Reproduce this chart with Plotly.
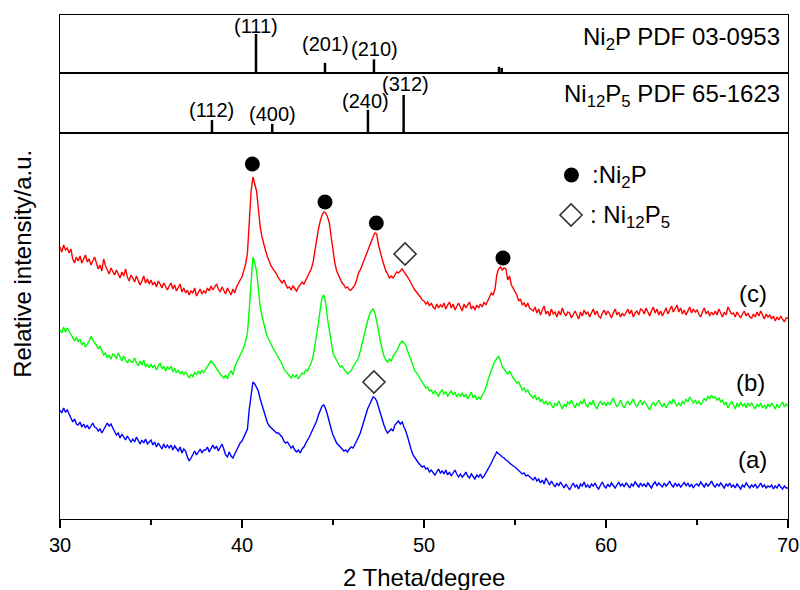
import plotly.graph_objects as go

# ---------------- data ----------------
two_theta = [round(30 + 0.1 * i, 1) for i in range(401)]

curve_c = [
    274, 269, 276, 271, 273, 268, 272, 262, 258, 264,
    260, 265, 258, 263, 266, 259, 262, 256, 261, 264,
    258, 252, 256, 250, 262, 255, 251, 247, 253, 249,
    246, 251, 247, 243, 249, 245, 252, 244, 240, 246,
    243, 239, 245, 241, 236, 240, 245, 238, 242, 237,
    241, 236, 239, 234, 240, 237, 233, 238, 235, 231,
    235, 238, 232, 236, 230, 234, 237, 229, 233, 228,
    231, 226, 230, 228, 233, 225, 229, 232, 227, 230,
    228, 233, 230, 235, 231, 234, 237, 232, 229, 234,
    230, 227, 233, 229, 226, 232, 228, 234, 238, 241,
    244, 250, 257, 268, 300, 330, 344, 338, 330, 312,
    294, 284, 276, 270, 264, 259, 255, 252, 250, 247,
    243, 240, 238, 241, 236, 233, 234, 231, 235, 232,
    230, 234, 236, 239, 237, 241, 244, 248, 252, 258,
    270, 282, 292, 300, 306, 309, 308, 304, 298, 284,
    268, 258, 250, 246, 242, 238, 236, 233, 234, 231,
    231, 234, 236, 241, 248, 251, 256, 260, 266, 270,
    274, 280, 284, 288, 287, 276, 268, 262, 256, 250,
    247, 243, 245, 243, 246, 249, 248, 250, 252, 249,
    247, 244, 241, 237, 234, 231, 229, 226, 224, 221,
    220, 217, 219, 215, 218, 214, 212, 217, 213, 216,
    214, 218, 212, 216, 219, 213, 217, 211, 215, 218,
    214, 210, 217, 213, 216, 219, 212, 215, 211, 216,
    213, 217, 214, 219, 216, 220, 224, 228, 226, 232,
    246, 252, 254, 251, 253, 252, 241, 245, 236, 233,
    230, 226, 220, 222, 216, 218, 214, 218, 213, 211,
    210, 214, 208, 212, 206, 211, 215, 207, 210, 205,
    212, 207, 209, 204, 210, 206, 213, 208, 205, 209,
    208, 203, 207, 210, 206, 202, 209, 205, 211, 207,
    209, 204, 208, 212, 206, 210, 205, 203, 208, 211,
    206, 210, 207, 203, 208, 212, 206, 209, 204, 208,
    205, 209, 212, 207, 211, 204, 208, 210, 206, 212,
    211, 207, 213, 209, 205, 210, 214, 208, 212, 206,
    210, 205, 209, 213, 207, 211, 215, 209, 212, 216,
    209, 213, 207, 211, 206, 210, 214, 208, 212, 209,
    211, 207, 204, 209, 213, 207, 210, 205, 209, 206,
    210, 206, 212, 208, 204, 209, 206, 214, 210, 207,
    208, 204, 209, 206, 203, 207, 210, 205, 208, 204,
    203, 207, 204, 209, 205, 210, 206, 202, 207, 204,
    206, 202, 205, 200, 204, 201, 205, 202, 199, 203,
    203,
]

curve_b = [
    191, 188, 194, 189, 193, 190, 186, 183, 180, 184,
    179, 182, 176, 179, 174, 177, 180, 185, 181, 178,
    176, 172, 175, 170, 166, 168, 163, 166, 162, 167,
    166, 162, 168, 164, 160, 165, 161, 158, 162, 159,
    159, 163, 158, 155, 160, 156, 161, 154, 157, 153,
    157, 153, 156, 151, 155, 158, 152, 155, 150, 154,
    152, 155, 149, 153, 148, 151, 147, 150, 146, 149,
    146, 143, 147, 144, 149, 146, 150, 147, 151, 148,
    152, 155, 157, 160, 158, 155, 152, 150, 147, 145,
    143, 146, 142, 148, 150, 146, 154, 158, 163, 166,
    170, 174, 180, 188, 212, 240, 264, 258, 250, 232,
    214, 205, 196, 190, 184, 180, 176, 173, 170, 167,
    163, 160, 157, 152, 150, 148, 146, 143, 146, 144,
    146, 142, 145, 148, 147, 151, 150, 154, 158, 164,
    174, 186, 198, 212, 224, 226, 218, 202, 190, 178,
    168, 164, 160, 157, 154, 155, 152, 150, 147, 149,
    150, 154, 157, 160, 163, 170, 178, 186, 192, 200,
    206, 210, 212, 208, 200, 188, 180, 172, 165, 161,
    159, 162, 160, 165, 167, 170, 174, 178, 180, 178,
    176, 170, 165, 158, 154, 150, 148, 145, 142, 140,
    137, 133, 134, 130, 131, 127, 130, 128, 125, 129,
    131, 127, 129, 125, 128, 130, 126, 129, 124, 127,
    125, 128, 124, 127, 122, 126, 129, 123, 126, 121,
    124, 122, 126, 129, 133, 140, 146, 152, 156, 160,
    162, 165, 160, 154, 152, 150, 147, 150, 146, 143,
    141, 138, 139, 135, 131, 133, 129, 131, 127, 125,
    123, 126, 121, 124, 119, 122, 117, 120, 116, 119,
    116, 113, 118, 115, 120, 116, 112, 117, 114, 119,
    117, 121, 116, 113, 118, 115, 120, 117, 122, 116,
    114, 119, 116, 121, 115, 112, 117, 120, 116, 119,
    115, 119, 116, 120, 123, 118, 114, 117, 121, 116,
    113, 117, 120, 116, 119, 122, 117, 114, 118, 121,
    116, 120, 117, 114, 111, 116, 119, 115, 118, 121,
    117, 114, 118, 113, 116, 120, 117, 122, 118, 115,
    118, 115, 120, 117, 122, 119, 124, 121, 118, 121,
    117, 120, 116, 119, 123, 120, 125, 122, 126, 123,
    124, 121, 123, 119, 121, 116, 119, 113, 117, 120,
    116, 112, 118, 114, 119, 115, 117, 113, 118, 115,
    118, 115, 112, 117, 114, 118, 113, 116, 112, 117,
    114, 118, 115, 112, 117, 113, 116, 119, 114, 117,
    115,
]

curve_a = [
    111, 108, 113, 109, 111, 106, 103, 99, 102, 97,
    96, 99, 94, 97, 93, 96, 92, 95, 98, 94,
    93, 90, 92, 88, 91, 94, 98, 95, 97, 93,
    90, 86, 88, 83, 87, 84, 81, 85, 82, 79,
    82, 79, 84, 80, 77, 81, 78, 82, 77, 79,
    81, 76, 79, 74, 78, 75, 72, 77, 73, 76,
    73, 76, 71, 75, 72, 70, 74, 68, 72, 70,
    64, 60, 63, 67, 70, 66, 69, 72, 68, 71,
    71, 74, 69, 73, 76, 72, 75, 70, 74, 77,
    72, 66, 64, 69, 65, 63, 67, 71, 74, 78,
    80, 84, 88, 92, 112, 128, 139, 137, 134, 130,
    122, 116, 110, 104, 98, 95, 93, 92, 90, 88,
    88, 86, 84, 80, 78, 79, 76, 73, 75, 71,
    69, 71, 68, 72, 74, 78, 81, 84, 88, 92,
    96, 100, 106, 110, 115, 116, 112, 106, 98, 92,
    86, 82, 78, 76, 74, 72, 70, 71, 69, 72,
    74, 73, 76, 80, 84, 88, 94, 100, 108, 112,
    116, 120, 124, 123, 120, 114, 108, 100, 96, 91,
    88, 90, 92, 90, 96, 98, 100, 97, 99, 94,
    90, 84, 76, 71, 66, 63, 60, 58, 56, 54,
    55, 52, 53, 49, 51, 48, 46, 49, 52, 48,
    50, 47, 51, 46, 49, 45, 48, 51, 47, 44,
    47, 44, 46, 49, 45, 43, 47, 44, 42, 46,
    44, 47, 43, 45, 48, 52, 55, 58, 62, 65,
    69, 67, 66, 64, 63, 61, 60, 58, 56, 55,
    54, 52, 50, 49, 47, 48, 45, 46, 44, 42,
    41, 44, 40, 42, 38, 41, 37, 43, 39, 36,
    40, 37, 34, 38, 35, 39, 36, 33, 37, 34,
    31, 35, 38, 34, 36, 32, 37, 35, 39, 34,
    36, 33, 37, 35, 38, 34, 32, 36, 39, 35,
    33, 37, 34, 38, 35, 33, 36, 39, 35, 37,
    34, 38, 36, 33, 37, 35, 39, 36, 34, 38,
    35, 37, 34, 38, 36, 33, 37, 39, 35, 38,
    36, 34, 38, 35, 37, 40, 36, 34, 38, 35,
    37, 34, 36, 39, 35, 38, 34, 37, 33, 36,
    37, 35, 39, 36, 34, 38, 35, 37, 40, 36,
    34, 37, 35, 38, 36, 33, 37, 35, 38, 34,
    36, 33, 37, 35, 32, 36, 34, 38, 35, 33,
    36, 34, 37, 33, 35, 38, 34, 36, 33, 35,
    34, 36, 32, 35, 33, 37, 34, 32, 35, 33,
    33,
]

# PDF reference sticks
ni2p_pos = [40.77, 44.56, 47.25, 54.12, 54.27]
ni2p_int = [100, 26, 35, 16, 13]
ni2p_hkl = ["(111)", "(201)", "(210)"]
ni2p_lab_x = [40.77, 44.6, 47.3]
ni2p_lab_y = [120.5, 74.4, 62.8]

ni12p5_pos = [38.35, 41.66, 46.92, 48.88]
ni12p5_int = [34, 24, 61, 100]
ni12p5_hkl = ["(112)", "(400)", "(240)", "(312)"]
ni12p5_lab_x = [38.35, 41.65, 46.76, 48.98]
ni12p5_lab_y = [60.5, 50.0, 84.2, 129.0]

# phase markers on the patterns
ni2p_mark_x = [40.57, 44.56, 47.38, 54.34]
ni2p_mark_y = [357, 319, 298, 263]
ni12p5_mark_x = [48.96, 47.25]
ni12p5_mark_y = [267, 139]

curve_labels = ["(c)", "(b)", "(a)"]
curve_label_x = [68.1, 67.95, 68.05]
curve_label_y = [227, 138, 61]

FONT = "Arial, Liberation Sans, sans-serif"


def sticks(pos, h):
    xs, ys = [], []
    for p, v in zip(pos, h):
        xs += [p, p, None]
        ys += [0, v, None]
    return xs, ys


fig = go.Figure()

for ys, col in [(curve_c, "#ff0000"), (curve_b, "#00ff00"), (curve_a, "#0000ff")]:
    fig.add_trace(go.Scatter(x=two_theta, y=ys, mode="lines",
                             line=dict(color=col, width=1.4),
                             xaxis="x", yaxis="y", showlegend=False))

fig.add_trace(go.Scatter(x=ni2p_mark_x, y=ni2p_mark_y, mode="markers",
                         marker=dict(symbol="circle", size=15, color="black"),
                         xaxis="x", yaxis="y", showlegend=False))
fig.add_trace(go.Scatter(x=ni12p5_mark_x, y=ni12p5_mark_y, mode="markers",
                         marker=dict(symbol="diamond-open", size=17, color="#333333",
                                     line=dict(width=1.6, color="#333333")),
                         xaxis="x", yaxis="y", showlegend=False))

# key symbols drawn inside the plot
fig.add_trace(go.Scatter(x=[58.1], y=[346], mode="markers",
                         marker=dict(symbol="circle", size=15, color="black"),
                         xaxis="x", yaxis="y", showlegend=False))
fig.add_trace(go.Scatter(x=[58.08], y=[306], mode="markers",
                         marker=dict(symbol="diamond-open", size=17, color="#333333",
                                     line=dict(width=1.6, color="#333333")),
                         xaxis="x", yaxis="y", showlegend=False))

# sticks
sx, sy = sticks(ni2p_pos, ni2p_int)
fig.add_trace(go.Scatter(x=sx, y=sy, mode="lines", line=dict(color="black", width=2.5),
                         xaxis="x3", yaxis="y3", showlegend=False))
sx, sy = sticks(ni12p5_pos, ni12p5_int)
fig.add_trace(go.Scatter(x=sx, y=sy, mode="lines", line=dict(color="black", width=2.5),
                         xaxis="x2", yaxis="y2", showlegend=False))

annotations = []
for t, x, y in zip(ni2p_hkl, ni2p_lab_x, ni2p_lab_y):
    annotations.append(dict(text=t, x=x, y=y, xref="x3", yref="y3", showarrow=False,
                            font=dict(size=20, family=FONT, color="black")))
for t, x, y in zip(ni12p5_hkl, ni12p5_lab_x, ni12p5_lab_y):
    annotations.append(dict(text=t, x=x, y=y, xref="x2", yref="y2", showarrow=False,
                            font=dict(size=20, family=FONT, color="black")))
for t, x, y in zip(curve_labels, curve_label_x, curve_label_y):
    annotations.append(dict(text=t, x=x, y=y, xref="x", yref="y", showarrow=False,
                            font=dict(size=24, family=FONT, color="black")))

annotations += [
    dict(text="Ni<sub>2</sub>P PDF 03-0953", xref="paper", yref="y3 domain",
         x=0.992, y=0.59, xanchor="right", yanchor="middle", showarrow=False,
         font=dict(size=24, family=FONT, color="black")),
    dict(text="Ni<sub>12</sub>P<sub>5</sub> PDF 65-1623", xref="paper", yref="y2 domain",
         x=0.992, y=0.62, xanchor="right", yanchor="middle", showarrow=False,
         font=dict(size=24, family=FONT, color="black")),
    dict(text=":Ni<sub>2</sub>P", xref="x", yref="y", x=59.12, y=344,
         xanchor="left", yanchor="middle", showarrow=False,
         font=dict(size=24, family=FONT, color="black")),
    dict(text=": Ni<sub>12</sub>P<sub>5</sub>", xref="x", yref="y", x=59.0, y=304,
         xanchor="left", yanchor="middle", showarrow=False,
         font=dict(size=24, family=FONT, color="black")),
    dict(text="Relative intensity/a.u.", xref="paper", yref="paper",
         x=-0.051, y=0.506, textangle=-90, xanchor="center", yanchor="middle",
         showarrow=False, font=dict(size=24, family=FONT, color="black")),
    dict(text="2 Theta/degree", xref="paper", yref="paper",
         x=0.5, y=-0.117, xanchor="center", yanchor="middle",
         showarrow=False, font=dict(size=24, family=FONT, color="black")),
]

frame = dict(showline=True, linecolor="black", linewidth=1.3, mirror=True,
             showgrid=False, zeroline=False, automargin=False)

fig.update_layout(
    width=800, height=590, autosize=False,
    margin=dict(l=60, r=12, t=15, b=71, autoexpand=False),
    paper_bgcolor="white", plot_bgcolor="white",
    font=dict(family=FONT, color="black"),
    showlegend=False,
    xaxis=dict(domain=[0, 1], range=[30, 70], anchor="y", ticks="outside",
               ticklen=8, tickwidth=1.5, tickcolor="black", tick0=30, dtick=10,
               tickfont=dict(size=20, family=FONT, color="black"),
               minor=dict(dtick=5, ticks="outside", ticklen=5, tickwidth=1.5,
                          tickcolor="black"),
               **frame),
    yaxis=dict(domain=[0, 0.7659], range=[2, 388], anchor="x", ticks="",
               showticklabels=False, **frame),
    xaxis2=dict(domain=[0, 1], range=[30, 70], anchor="y2", matches="x",
                ticks="", showticklabels=False, **frame),
    yaxis2=dict(domain=[0.7659, 0.8849], range=[0, 157.9], anchor="x2", ticks="",
                showticklabels=False, **frame),
    xaxis3=dict(domain=[0, 1], range=[30, 70], anchor="y3", matches="x",
                ticks="", showticklabels=False, **frame),
    yaxis3=dict(domain=[0.8849, 1], range=[0, 148.7], anchor="x3", ticks="",
                showticklabels=False, **frame),
    annotations=annotations,
)

fig.write_html("out.html")
